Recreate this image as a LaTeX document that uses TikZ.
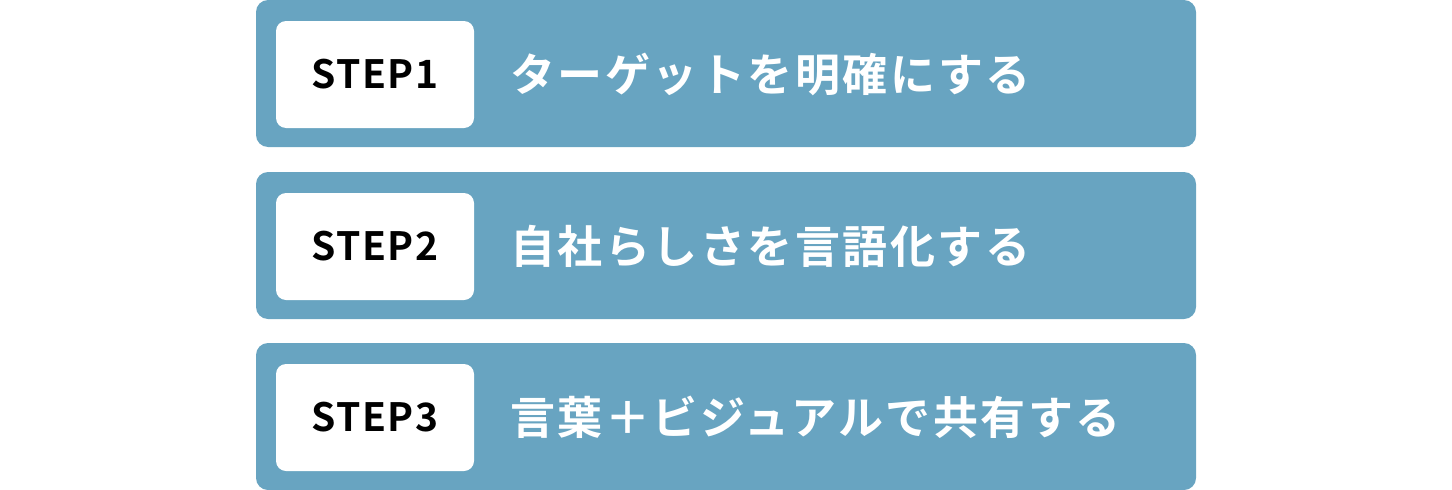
\documentclass[tikz,border=0pt]{standalone}
\usepackage{fontspec}
\newfontfamily\jpb[LetterSpace=5.6]{Noto Sans CJK JP Bold}
\newfontfamily\jpm[LetterSpace=3.5]{Noto Sans CJK JP Bold}
\definecolor{barblue}{HTML}{68A4C1}
\begin{document}
\begin{tikzpicture}[x=1pt,y=-1pt,
  bar/.style={fill=barblue,rounded corners=12pt},
  stepbox/.style={fill=white,rounded corners=10pt},
  steplabel/.style={font=\jpm\fontsize{39}{39}\selectfont,text=black,inner sep=0},
  maintext/.style={font=\jpb\fontsize{45}{45}\selectfont,text=white,anchor=west,inner sep=0}]
\useasboundingbox (0,0) rectangle (1452,490);
\foreach \i/\y/\t in {1/0/ターゲットを明確にする,2/172/自社らしさを言語化する,3/343/言葉＋ビジュアルで共有する}{
  \fill[bar] (256,\y) rectangle (1196,\y+147);
  \fill[stepbox] (276,\y+21) rectangle (474,\y+128);
  \node[steplabel] (s\i) at (375,\y+74.5) {STEP\i};
  \node[maintext] (t\i) at (510,\y+74) {\t};
}
\end{tikzpicture}
\end{document}
